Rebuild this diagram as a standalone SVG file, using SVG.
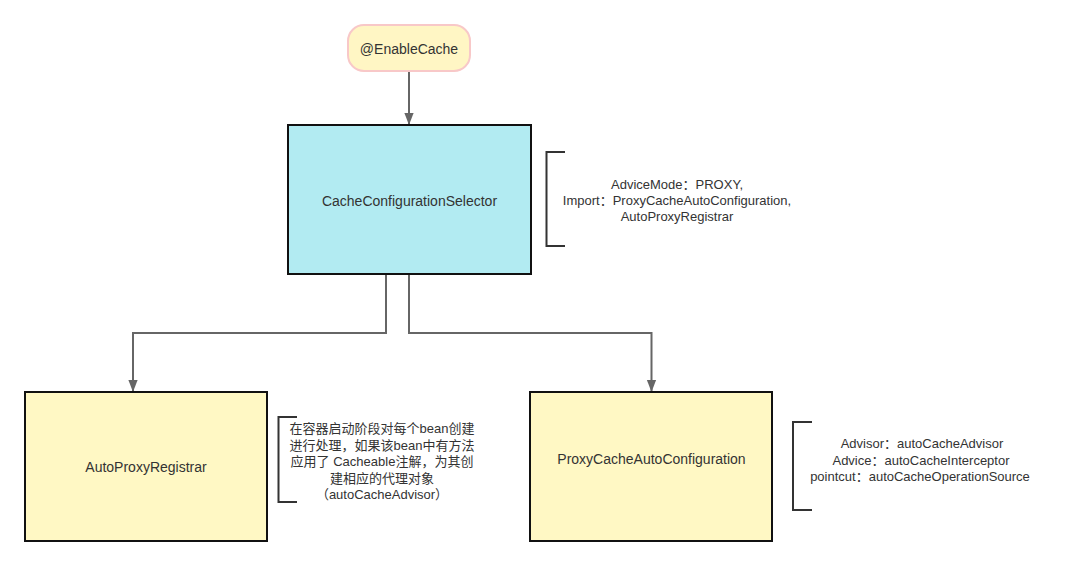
<svg xmlns="http://www.w3.org/2000/svg" width="1080" height="566" viewBox="0 0 1080 566">
  <style>
    .box { stroke: #111; stroke-width: 2; }
    .cyan { fill: #b2ebf2; }
    .yellow { fill: #fff8c4; }
    .label { font-family: "Liberation Sans", "Noto Sans CJK SC", sans-serif; font-size: 14px; fill: #333; text-anchor: middle; }
    .note { font-family: "Liberation Sans", "Noto Sans CJK SC", sans-serif; font-size: 13px; fill: #333; text-anchor: middle; }
    .bracket { fill: none; stroke: #333; stroke-width: 2; }
    .conn { fill: none; stroke: #666; stroke-width: 2; }
  </style>
  <defs>
    <marker id="arrow" markerUnits="userSpaceOnUse" markerWidth="12" markerHeight="14" refX="13" refY="5" orient="auto" viewBox="0 0 13 10">
      <path d="M0 0 L13 5 L0 10 Z" fill="#666"/>
    </marker>
  </defs>
  <rect width="1080" height="566" fill="#fff"/>

  <g id="connectors">
    <path class="conn" d="M409 72 V125" marker-end="url(#arrow)"/>
    <path class="conn" d="M386 275 V333 H133 V392" marker-end="url(#arrow)"/>
    <path class="conn" d="M409 275 V333 H651.5 V392" marker-end="url(#arrow)"/>
  </g>

  <g id="enable-cache">
    <rect x="348" y="25" width="122" height="46" rx="16" fill="#fff6c4" stroke="#f8c8c8" stroke-width="2"/>
    <text class="label" x="409" y="53.5" font-size="13">@EnableCache</text>
  </g>

  <g id="cache-configuration-selector">
    <rect class="box cyan" x="288" y="125" width="243" height="149"/>
    <text class="label" x="409.5" y="205.5">CacheConfigurationSelector</text>
  </g>

  <g id="selector-note">
    <path class="bracket" d="M565 152 H546.5 V246 H565"/>
    <text class="note" x="677" y="189">AdviceMode：PROXY,</text>
    <text class="note" x="677" y="205">Import：ProxyCacheAutoConfiguration,</text>
    <text class="note" x="677" y="221">AutoProxyRegistrar</text>
  </g>

  <g id="auto-proxy-registrar">
    <rect class="box yellow" x="25" y="392" width="242" height="149"/>
    <text class="label" x="146" y="472">AutoProxyRegistrar</text>
  </g>

  <g id="registrar-note">
    <path class="bracket" d="M297 417 H278.5 V502 H297"/>
    <text class="note" x="382" y="433">在容器启动阶段对每个bean创建</text>
    <text class="note" x="382" y="449.5">进行处理，如果该bean中有方法</text>
    <text class="note" x="382" y="466">应用了 Cacheable注解，为其创</text>
    <text class="note" x="382" y="482.5">建相应的代理对象</text>
    <text class="note" x="382" y="498.5">（autoCacheAdvisor）</text>
  </g>

  <g id="proxy-cache-auto-configuration">
    <rect class="box yellow" x="530" y="392" width="242" height="149"/>
    <text class="label" x="651.5" y="464">ProxyCacheAutoConfiguration</text>
  </g>

  <g id="configuration-note">
    <path class="bracket" d="M812 422 H793 V510 H812"/>
    <text class="note" x="922" y="448">Advisor：autoCacheAdvisor</text>
    <text class="note" x="921" y="464.5">Advice：autoCacheInterceptor</text>
    <text class="note" x="920" y="481">pointcut：autoCacheOperationSource</text>
  </g>
</svg>
